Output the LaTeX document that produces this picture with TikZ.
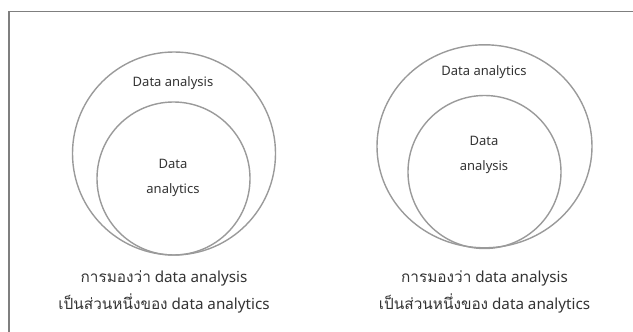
\documentclass[tikz,border=0pt]{standalone}
\usepackage{fontspec}
\setmainfont{Noto Sans}
\newfontfamily\thai[Script=Thai,Scale=1.01]{Loma}
\usetikzlibrary{shapes.geometric}
\definecolor{ringgray}{HTML}{9A9A9A}
\definecolor{framegray}{HTML}{7F7F7F}
\definecolor{txtgray}{HTML}{333333}
\begin{document}
\begin{tikzpicture}[x=1pt,y=-1pt,
  ring/.style={draw=ringgray, line width=1.4pt, circle, inner sep=0pt},
  oval/.style={draw=ringgray, line width=1.4pt, ellipse, inner sep=0pt},
  lbl/.style={text=txtgray, align=center, font=\fontsize{13}{25}\selectfont, inner sep=0pt},
  captxt/.style={text=txtgray, align=center, font=\fontsize{15.2}{27}\selectfont, inner sep=0pt}]
\useasboundingbox (0,0) rectangle (633,332);
\coordinate (fb) at (9,332);
\coordinate (fc) at (9,11);
\coordinate (fr) at (633,11);
\draw[framegray, line width=1.6pt] (fb) -- (fc);
\draw[framegray, line width=1pt] (fc) -- (fr);
% left diagram
\node[ring, minimum size=203] (o1) at (174,153.5) {};
\node[ring, minimum size=153] (i1) at (173.5,178.5) {};
\node[lbl] (t1) at (173,83) {Data analysis};
\node[lbl] (t2) at (173,177.5) {Data\\analytics};
\node[captxt] (c1) at (164,291.5) {{\thai การมองว่า} data analysis\\{\thai เป็นส่วนหนึ่งของ} data analytics};
% right diagram
\node[oval, minimum width=215, minimum height=203] (o2) at (484.5,146.3) {};
\node[ring, minimum size=153] (i2) at (484.5,172) {};
\node[lbl] (t3) at (484,72) {Data analytics};
\node[lbl] (t4) at (484,154.5) {Data\\analysis};
\node[captxt] (c2) at (484.5,292) {{\thai การมองว่า} data analysis\\{\thai เป็นส่วนหนึ่งของ} data analytics};
\end{tikzpicture}
\end{document}
